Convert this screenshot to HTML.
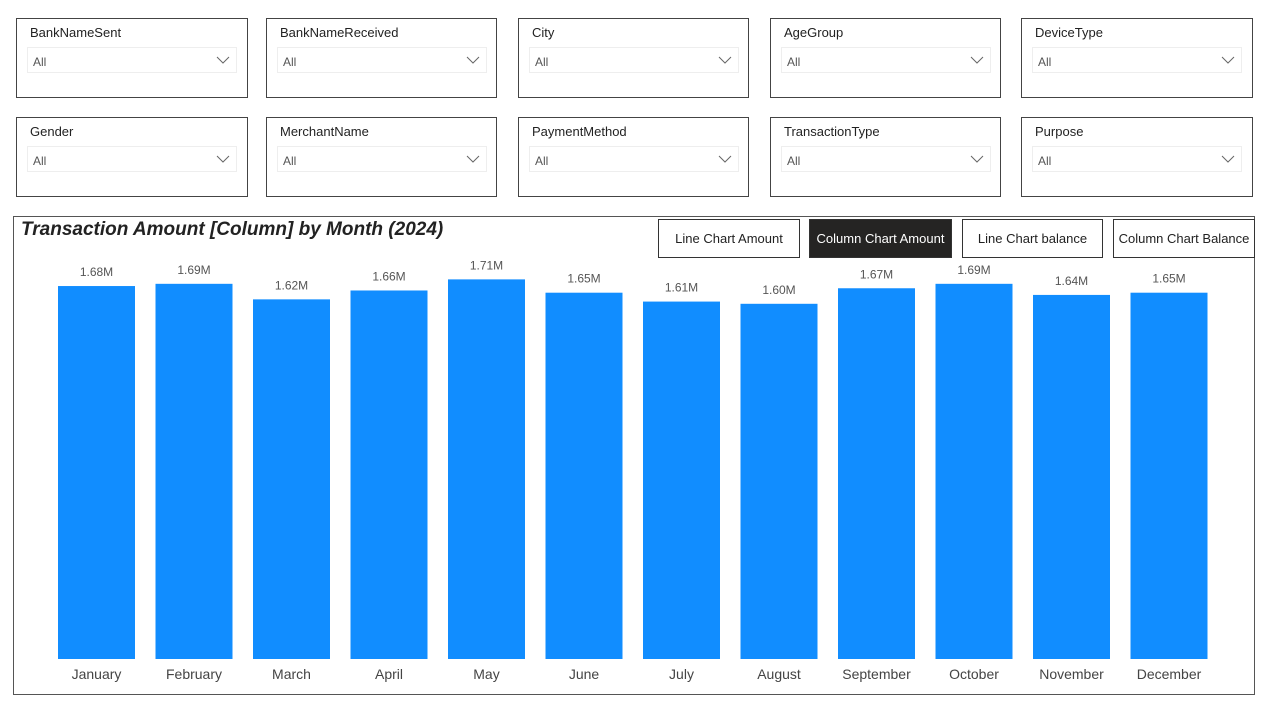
<!DOCTYPE html>
<html><head><meta charset="utf-8"><style>
body{margin:0;width:1263px;height:711px;background:#fff;font-family:"Liberation Sans",sans-serif;position:relative;overflow:hidden}
.sl{position:absolute;width:229px;height:78px;border:1px solid #444;box-sizing:border-box}
.sl .t{position:absolute;left:13px;top:6px;font-size:13px;color:#222}
.sl .dd{position:absolute;left:10px;top:28px;width:210px;height:26px;border:1px solid #eee;box-sizing:border-box}
.sl .dd span{position:absolute;left:5px;top:7px;font-size:12px;color:#555}
.sl .dd svg{position:absolute;right:6px;top:8px}
.btn{position:absolute;top:219px;height:39px;border:1px solid #333;box-sizing:border-box;font-size:13px;display:flex;align-items:center;justify-content:center;background:#fff;color:#222;white-space:nowrap}
</style></head><body>
<div id="slicers"></div>
<div style="position:absolute;left:13px;top:216px;width:1242px;height:479px;border:1px solid #555;box-sizing:border-box"></div>
<div style="position:absolute;left:21px;top:219px;font-size:19px;font-weight:bold;font-style:italic;color:#222">Transaction Amount [Column] by Month (2024)</div>
<div class="btn" style="left:658px;width:142px">Line Chart Amount</div>
<div class="btn" style="left:809px;width:143px;background:#252423;color:#fff">Column Chart Amount</div>
<div class="btn" style="left:962px;width:141px">Line Chart balance</div>
<div class="btn" style="left:1113px;width:142px">Column Chart Balance</div>
<svg id="chart" width="1263" height="711" style="position:absolute;left:0;top:0;pointer-events:none"></svg>
<script>
const slicerNames=["BankNameSent","BankNameReceived","City","AgeGroup","DeviceType","Gender","MerchantName","PaymentMethod","TransactionType","Purpose"];
const sx=[16,266,518,770,1021];
const sc=document.getElementById('slicers');
slicerNames.forEach((n,i)=>{
  const d=document.createElement('div');d.className='sl';
  d.style.left=sx[i%5]+'px';d.style.top=(i<5?18:117)+'px';d.style.width=(i%5==0||i%5==4?232:231)+'px';d.style.height='80px';
  
  
  d.innerHTML='<div class="t">'+n+'</div><div class="dd"><span>All</span><svg width="14" height="8"><polyline points="1,1 7,7 13,1" fill="none" stroke="#666" stroke-width="1"/></svg></div>';
  sc.appendChild(d);
});
const months=["January","February","March","April","May","June","July","August","September","October","November","December"];
const amounts=[1.68,1.69,1.62,1.66,1.71,1.65,1.61,1.60,1.67,1.69,1.64,1.65];
const labels=["1.68M","1.69M","1.62M","1.66M","1.71M","1.65M","1.61M","1.60M","1.67M","1.69M","1.64M","1.65M"];
const svg=document.getElementById('chart');const NS='http://www.w3.org/2000/svg';
const base=659,pxPer=222,x0=58,step=97.5,bw=77;
const yS=v=>base-v*pxPer, xS=i=>x0+i*step;
amounts.forEach((v,i)=>{
  const r=document.createElementNS(NS,'rect');
  r.setAttribute('x',xS(i));r.setAttribute('y',yS(v));r.setAttribute('width',bw);r.setAttribute('height',base-yS(v));r.setAttribute('fill','#118DFF');
  
  
  svg.appendChild(r);
  const t=document.createElementNS(NS,'text');
  t.setAttribute('x',xS(i)+bw/2);t.setAttribute('y',yS(v)-10);t.setAttribute('text-anchor','middle');t.setAttribute('font-size','12');t.setAttribute('fill','#555');t.setAttribute('font-family','Liberation Sans, sans-serif');
  t.textContent=labels[i];
  
  
  svg.appendChild(t);
  const m=document.createElementNS(NS,'text');
  m.setAttribute('x',xS(i)+bw/2);m.setAttribute('y',679);m.setAttribute('text-anchor','middle');m.setAttribute('font-size','14');m.setAttribute('fill','#444');m.setAttribute('font-family','Liberation Sans, sans-serif');
  m.textContent=months[i];
  
  
  svg.appendChild(m);
});
</script>
</body></html>
